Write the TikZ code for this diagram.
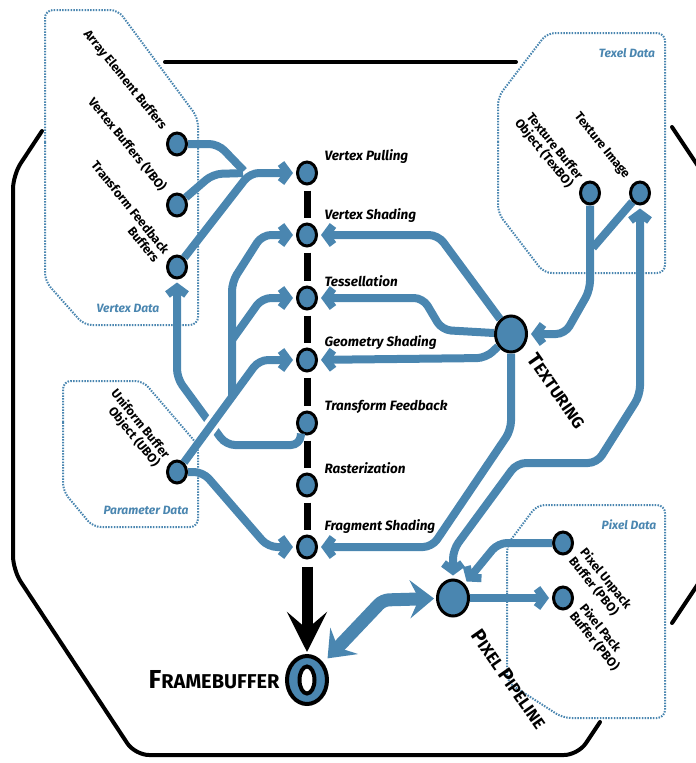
\documentclass[tikz,border=0pt]{standalone}
\usepackage{fontspec}
\setmainfont{Fira Sans}
\usetikzlibrary{arrows.meta}
\usetikzlibrary{shapes.geometric}
\usetikzlibrary{calc}

\definecolor{metro}{RGB}{74,134,176}
\newcommand{\fakesc}[3]{{\fontsize{#1}{#1}\selectfont #2}#3}

\begin{document}
\begin{tikzpicture}[x=1pt, y=-1pt,
  >={Straight Barb[length=7pt,width=19pt]},
  stage/.style={ellipse, draw=black, line width=3pt, fill=metro, minimum width=19pt, minimum height=22pt, inner sep=0pt},
  hub/.style={stage, minimum width=31pt, minimum height=36pt},
  route/.style={metro, line width=8pt, rounded corners=9pt, shorten >=3pt},
  bigroute/.style={metro, line width=13pt, rounded corners=6pt, >={Stealth[length=24pt,width=38pt,inset=9pt]}},
  pipe/.style={line width=7pt, shorten >=5pt, shorten <=5pt},
  databox/.style={metro, line width=2pt, dash pattern=on 1.5pt off 1.3pt, rounded corners=8pt},
  stagelbl/.style={anchor=west, font=\fontsize{13.5}{13.5}\selectfont\bfseries\itshape},
  buflbl/.style={rotate=-51, font=\fontsize{12.5}{13}\selectfont\bfseries},
  datalbl/.style={text=metro, font=\fontsize{12}{12}\selectfont\bfseries\itshape},
  hublbl/.style={font=\fontsize{16.5}{16.5}\selectfont\bfseries}]

\useasboundingbox (0,0) rectangle (696,763);
\clip (0,0) rectangle (696,763);

% outer frame
\draw[line width=4pt, line cap=round, rounded corners=14pt] (42,131) -- (13,175) -- (13,570) -- (135,755) -- (578,755) -- (600,722);
\draw[line width=4pt, line cap=round] (165,62) -- (516,62);
\draw[line width=4pt, line cap=round] (672,127) -- (712,187);
\draw[line width=4pt, line cap=round] (672,623) -- (712,563);

% data areas
\draw[databox] (45,150) -- (45,10) -- (118,10) -- (198,118) -- (198,325) -- (84,325) -- (45,281) -- cycle;
\draw[databox] (63,430) -- (63,381) -- (143,381) -- (198,445) -- (198,527) -- (93,527) -- (63,491) -- cycle;
\draw[databox] (498,150) -- (498,97) -- (547,33) -- (665,33) -- (665,273) -- (544,273) -- (498,213) -- cycle;
\draw[databox] (507,600) -- (507,545) -- (537,505) -- (665,505) -- (665,718) -- (563,718) -- (507,682) -- cycle;

\node[datalbl] (vdlbl) at (128,308) {Vertex Data};
\node[datalbl] (pdlbl) at (146,510) {Parameter Data};
\node[datalbl] (tdlbl) at (627,53) {Texel Data};
\node[datalbl] (pxdlbl) at (629,525) {Pixel Data};

% pipeline stages
\node[stage] (vp) at (307,173) {};
\node[stage] (vs) at (307,235) {};
\node[stage] (tess) at (307,298) {};
\node[stage] (geom) at (307,360) {};
\node[stage] (tf) at (307,423) {};
\node[stage] (rast) at (307,485) {};
\node[stage] (frag) at (307,547) {};
\node[ellipse, draw=black, line width=4pt, fill=metro, minimum width=40pt, minimum height=48pt] (fb) at (307,680) {};
\draw[line width=4pt, fill=white] (fb.center) ellipse (7.5 and 13.5);

\node[stagelbl] (vplbl) at ($(vp)+(14,-16)$) {Vertex Pulling};
\node[stagelbl] (vslbl) at ($(vs)+(14,-19)$) {Vertex Shading};
\node[stagelbl] (tesslbl) at ($(tess)+(14,-17)$) {Tessellation};
\node[stagelbl] (geomlbl) at ($(geom)+(14,-17)$) {Geometry Shading};
\node[stagelbl] (tflbl) at ($(tf)+(14,-16)$) {Transform Feedback};
\node[stagelbl] (rastlbl) at ($(rast)+(14,-17)$) {Rasterization};
\node[stagelbl] (fraglbl) at ($(frag)+(14,-20)$) {Fragment Shading};
\node[hublbl, anchor=east] (fblbl) at (283,680) {\fakesc{26}{F}{\fontsize{20}{20}\selectfont RAMEBUFFER}};

\draw[pipe] (vp) -- (vs);
\draw[pipe] (vs) -- (tess);
\draw[pipe] (tess) -- (geom);
\draw[pipe] (geom) -- (tf);
\draw[pipe] (tf) -- (rast);
\draw[pipe] (rast) -- (frag);
\draw[pipe, line width=11pt, shorten <=7pt, shorten >=2pt, -{Stealth[length=40pt,width=40pt,inset=17pt]}] (frag) -- (fb);

% buffers
\node[stage] (aeb) at (177,144) {};
\node[stage] (vbo) at (177,205) {};
\node[stage] (tfb) at (177,267) {};
\node[stage] (ubo) at (177,472) {};
\node[stage] (texbo) at (590,193) {};
\node[stage] (teximg) at (640,193) {};
\node[stage] (unpack) at (563,543) {};
\node[stage] (pack) at (563,598) {};
\node[hub] (texturing) at (511,334) {};
\node[hub] (pp) at (453,598) {};

\node[buflbl, anchor=east] (aeblbl) at ($(aeb)+(-11,-13)$) {Array Element Buffers};
\node[buflbl, anchor=east] (vbolbl) at ($(vbo)+(-11,-13)$) {Vertex Buffers (VBO)};
\node[buflbl, anchor=east, align=right] (tfblbl) at ($(tfb)+(-13,-8)$) {Transform Feedback\\Buffers};
\node[buflbl, anchor=east, align=right] (ubolbl) at ($(ubo)+(-13,-8)$) {Uniform Buffer\\Object (UBO)};
\node[buflbl, anchor=east, align=right] (texbolbl) at ($(texbo)+(-13,-8)$) {Texture Buffer\\Object (TexBO)};
\node[buflbl, anchor=east] (teximglbl) at ($(teximg)+(-11,-13)$) {Texture Image};
\node[buflbl, anchor=west, align=left] (unpacklbl) at ($(unpack)+(12,9)$) {Pixel Unpack\\Buffer (PBO)};
\node[buflbl, anchor=west, align=left] (packlbl) at ($(pack)+(12,9)$) {Pixel Pack\\Buffer (PBO)};

\node[hublbl, rotate=-55] (texturinglbl) at (557,391) {\fakesc{20}{T}{EXTURING}};
\node[hublbl, rotate=-55] (pplbl) at (509,679) {\fakesc{20}{P}{IXEL} \fakesc{20}{P}{IPELINE}};

% vertex data routes
\draw[route] (aeb) -- (218,144) -- (246,173);
\draw[route] (vbo) -- (213,174) -- (246,173);
\draw[route,->] (tfb) -- (250,173) -- (vp);
\draw[route,->] (tf.240) -- (300,445) -- (226,445) -- (177,378) -- (tfb);

% parameter data routes
\coordinate (ubojoin) at (232,397);
\coordinate (tessjoin) at (232,340);
\draw[white, line width=15pt] ($(ubo)!0.3!(259,360)$) -- ($(ubo)!0.58!(259,360)$);
\draw[route,->] (ubo) -- (259,360) -- (geom);
\draw[route,->] (ubojoin) -- (232,282) -- (262,235) -- (vs);
\draw[route,->] (tessjoin) -- (262,298) -- (tess);
\draw[route,->] (ubo) -- (203,472) -- (268,547) -- (frag);

% texel routes
\coordinate (teximgjoin) at (591,250);
\draw[route] (teximg) -- (teximgjoin);
\draw[route,->] (texbo) -- (590,290) -- (565,334) -- (texturing);
\draw[route,->] (texturing) -- (438,235) -- (vs);
\draw[route,->] (texturing) -- (442,330) -- (423,298) -- (tess);
\draw[route,->] (texturing) -- (486,358) -- (geom);
\draw[route,->] (texturing) -- (511,430) -- (432,547) -- (frag);

% pixel routes
\draw[route,<->, shorten <=3pt] (pp) -- (453,550) -- (517,463) -- (597,463) -- (640,395) -- (teximg);
\draw[route,->] (unpack) -- (498,543) -- (pp);
\draw[route,->] (pp) -- (pack);
\draw[bigroute,<->, shorten <=6pt, shorten >=2pt] (fb) -- (383,600) -- (pp);

\end{tikzpicture}
\end{document}
